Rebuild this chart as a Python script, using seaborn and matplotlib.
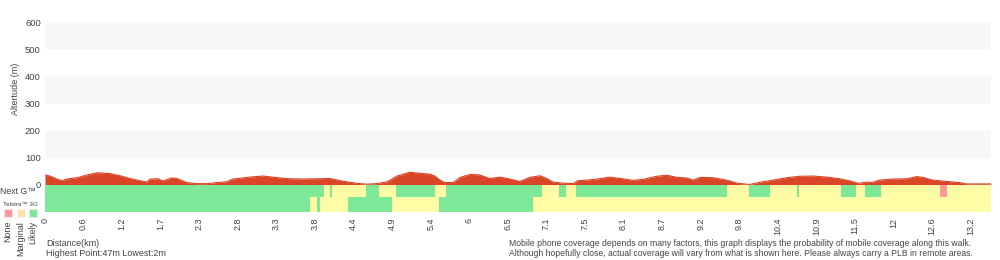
import matplotlib
matplotlib.use("Agg")
import matplotlib.pyplot as plt
import seaborn as sns
import pandas as pd

# ---------------- data ----------------
dist_km = [0.00, 0.07, 0.17, 0.24, 0.31, 0.46, 0.60, 0.74, 0.93, 1.07, 1.21, 1.35, 1.45, 1.50,
           1.61, 1.68, 1.81, 1.88, 2.02, 2.17, 2.31, 2.45, 2.59, 2.68, 2.92, 3.11, 3.31, 3.49,
           3.68, 3.88, 4.06, 4.25, 4.45, 4.59, 4.73, 4.88, 5.02, 5.20, 5.35, 5.49, 5.56, 5.63,
           5.70, 5.82, 5.92, 6.06, 6.20, 6.34, 6.49, 6.63, 6.77, 6.91, 7.06, 7.16, 7.24, 7.38,
           7.53, 7.60, 7.73, 7.87, 8.05, 8.24, 8.38, 8.53, 8.72, 8.87, 9.01, 9.15, 9.24, 9.34,
           9.52, 9.72, 9.88, 10.05, 10.19, 10.38, 10.58, 10.76, 10.95, 11.15, 11.33, 11.48,
           11.60, 11.72, 11.79, 11.90, 12.09, 12.29, 12.43, 12.52, 12.66, 12.86, 13.04, 13.14,
           13.33, 13.49]
elev_m = [37, 33, 22, 16, 22, 27, 37, 45, 42, 34, 24, 16, 11, 22,
          23, 15, 26, 24, 9, 5, 5, 9, 12, 22, 29, 33, 27, 23,
          22, 23, 24, 14, 6, 3, 5, 12, 33, 47, 43, 40, 33, 18,
          9, 9, 28, 39, 37, 24, 29, 22, 13, 28, 34, 23, 11, 7,
          5, 16, 18, 22, 29, 23, 17, 21, 32, 36, 28, 26, 18, 28,
          27, 18, 6, 2, 10, 18, 27, 32, 33, 29, 23, 15,
          6, 11, 9, 18, 22, 23, 31, 28, 18, 13, 9, 4,
          4, 4]

nextg_breaks = [0, 3.98, 4.06, 4.09, 4.58, 4.76, 5.00, 5.56, 5.72, 7.09, 7.33, 7.43, 7.57,
                9.72, 10.04, 10.34, 10.72, 10.75, 11.35, 11.56, 11.69, 11.92, 12.76, 12.86, 13.49]
nextg_level = ["Likely", "Marginal", "Likely", "Marginal", "Likely", "Marginal", "Likely",
               "Marginal", "Likely", "Marginal", "Likely", "Marginal", "Likely", "Marginal",
               "Likely", "Marginal", "Likely", "Marginal", "Likely", "Marginal", "Likely",
               "Marginal", "None", "Marginal"]

g3_breaks = [0, 3.78, 3.88, 3.92, 4.32, 4.95, 5.62, 6.96, 13.49]
g3_level = ["Likely", "Marginal", "Likely", "Marginal", "Likely", "Marginal", "Likely", "Marginal"]

tick_labels = ["0", "0.6", "1.2", "1.7", "2.3", "2.8", "3.3", "3.8", "4.4", "4.9", "5.4", "6",
               "6.5", "7.1", "7.5", "8.1", "8.7", "9.2", "9.8", "10.4", "10.9", "11.5", "12",
               "12.6", "13.2"]
tick_step_km = 0.55
y_ticks = [0, 100, 200, 300, 400, 500, 600]

# ---------------- style ----------------
sns.set_theme(style="white")
plt.rcParams["font.family"] = ["Liberation Sans", "DejaVu Sans"]
TXT = "#444444"
RED = "#db4527"
COV = {"None": "#ff9999", "Marginal": "#fffca6", "Likely": "#7ce898"}

W, H = 1000, 260
fig = plt.figure(figsize=(W / 100, H / 100), dpi=100)

def fx(px):
    return px / W

def fy(py):
    return 1 - py / H

# elevation axes
ax = fig.add_axes([fx(45), fy(185), fx(946), 163 / H])
for lo in (100, 300, 500):
    ax.axhspan(lo, lo + 100, color="#f7f7f7", lw=0, zorder=0)
df = pd.DataFrame({"dist": dist_km, "elev": elev_m})
ax.fill_between(df["dist"], df["elev"], 0, color=RED, lw=0, zorder=2)
sns.lineplot(data=df, x="dist", y="elev", ax=ax, color=RED, lw=0.8, zorder=3)
ax.set_xlim(0, dist_km[-1])
ax.set_ylim(0, 600)
ax.set_yticks(y_ticks)
ax.set_yticklabels([str(v) for v in y_ticks], fontsize=6.8, color=TXT)
ax.tick_params(axis="y", length=0, pad=3)
ax.set_xticks([])
ax.set_xlabel("")
ax.set_ylabel("")
for s in ax.spines.values():
    s.set_visible(False)
fig.text(fx(16), fy(89), "Altertude (m)", rotation=90, fontsize=6.5, color=TXT,
         va="center", ha="center")

# coverage axes
axc = fig.add_axes([fx(45), fy(212), fx(946), 27 / H])
def draw_row(breaks, levels, y0, h):
    lefts = breaks[:-1]
    widths = [b - a for a, b in zip(breaks[:-1], breaks[1:])]
    cols = [COV[l] for l in levels]
    axc.barh([y0] * len(lefts), widths, left=lefts, height=h, align="edge",
             color=cols, lw=0)
draw_row(nextg_breaks, nextg_level, 15.5, 11.5)
draw_row(g3_breaks, g3_level, 0, 15.5)
axc.set_xlim(0, dist_km[-1])
axc.set_ylim(0, 27)
axc.set_yticks([])
axc.set_xticks([i * tick_step_km for i in range(len(tick_labels))])
axc.set_xticklabels(tick_labels, rotation=90, fontsize=6.5, color=TXT)
axc.tick_params(axis="x", length=0, pad=4)
for s in axc.spines.values():
    s.set_visible(False)

# left legend
fig.text(fx(0), fy(191), "Next G\u2122", fontsize=6.3, color=TXT, va="center", ha="left")
fig.text(fx(3), fy(204), "Telstra\u2122 3G", fontsize=4.5, color=TXT, va="center", ha="left")
for cx, lvl, lab in ((8, "None", "None"), (21, "Marginal", "Marginal"), (33, "Likely", "Likely")):
    fig.patches.append(plt.Rectangle((fx(cx - 4), fy(217)), fx(8), 8 / H, transform=fig.transFigure,
                                     facecolor=COV[lvl] if lvl != "Marginal" else "#ffe2a6",
                                     edgecolor="#f0f0f0", lw=0.5))
    fig.text(fx(cx), fy(221), lab, rotation=90, fontsize=6.5, color=TXT, va="top", ha="center")

# bottom text
fig.text(fx(46), fy(243), "Distance(km)", fontsize=6.5, color=TXT, va="center", ha="left")
fig.text(fx(46), fy(253), "Highest Point:47m Lowest:2m", fontsize=6.5, color=TXT,
         va="center", ha="left")
fig.text(fx(509), fy(243),
         "Mobile phone coverage depends on many factors, this graph displays the probability of mobile coverage along this walk.",
         fontsize=6.2, color=TXT, va="center", ha="left")
fig.text(fx(509), fy(253),
         "Although hopefully close, actual coverage will vary from what is shown here. Please always carry a PLB in remote areas.",
         fontsize=6.2, color=TXT, va="center", ha="left")

fig.savefig("out.png", dpi=100, facecolor="white")
